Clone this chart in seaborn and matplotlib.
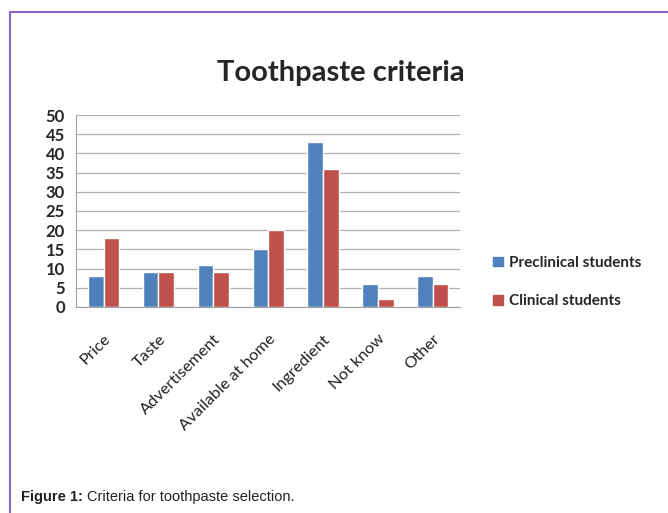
import pandas as pd
import matplotlib.pyplot as plt
import seaborn as sns
from matplotlib.patches import Rectangle
from matplotlib.lines import Line2D

criteria = ["Price", "Taste", "Advertisement", "Available at home",
            "Ingredient", "Not know", "Other"]
preclinical = [8, 9, 11, 15, 43, 6, 8]
clinical = [18, 9, 9, 20, 36, 2, 6]
groups = ["Preclinical students", "Clinical students"]
colors = ["#4F81BD", "#C0504D"]

df = pd.DataFrame({
    "criteria": criteria * 2,
    "value": preclinical + clinical,
    "group": [groups[0]] * len(criteria) + [groups[1]] * len(criteria),
})

sns.set_style("white")
plt.rcParams["font.family"] = ["Lato", "DejaVu Sans"]

fig = plt.figure(figsize=(6.68, 5.13), dpi=100)
ax = fig.add_axes([0.114, 0.4016, 0.575, 0.3742])

sns.barplot(data=df, x="criteria", y="value", hue="group", palette=colors,
            width=0.57, gap=0, ax=ax, legend=False, saturation=1)

ax.set_ylim(0, 50)
ax.set_xlim(-0.5, len(criteria) - 0.5)
ax.set_yticks(range(0, 51, 5))
ax.yaxis.grid(True, color="#b0b0b0", linewidth=0.9)
ax.set_axisbelow(True)
ax.set_xlabel("")
ax.set_ylabel("")
for s in ["top", "right"]:
    ax.spines[s].set_visible(False)
ax.spines["left"].set_color("#a0a0a0")
ax.spines["bottom"].set_color("#a0a0a0")
ax.tick_params(axis="y", length=0, labelsize=12, pad=8)
ax.tick_params(axis="x", length=0, labelsize=11.8, pad=18)
for t in ax.get_yticklabels():
    t.set_fontweight("bold")
plt.setp(ax.get_xticklabels(), rotation=45, ha="right", rotation_mode="anchor",
         color="#222222")

fig.text(0.51, 0.858, "Toothpaste criteria", ha="center", va="center",
         fontsize=21, fontweight="bold")

handles = [Rectangle((0, 0), 1, 1, color=c) for c in colors]
fig.legend(handles, groups, loc="center left", bbox_to_anchor=(0.718, 0.45),
           frameon=False, handlelength=0.6, handleheight=0.6,
           handletextpad=0.4, labelspacing=1.6,
           prop={"weight": "bold", "size": 11})

# purple frame of the figure panel
fig.add_artist(Line2D([0.015, 0.015], [0, 0.977], color="#8a63c4", lw=1.5))
fig.add_artist(Line2D([0.015, 1.0], [0.977, 0.977], color="#8a63c4", lw=1.5))

cap_font = ["Liberation Sans", "DejaVu Sans"]
lead = fig.text(0.032, 0.024, "Figure 1:", fontsize=10.5, fontweight="bold",
                family=cap_font, color="#222222")
fig.canvas.draw()
x_end = lead.get_window_extent().x1 / fig.bbox.width
fig.text(x_end + 0.006, 0.024, "Criteria for toothpaste selection.",
         fontsize=10.5, family=cap_font, color="#222222")

fig.savefig("out.png", dpi=100)
